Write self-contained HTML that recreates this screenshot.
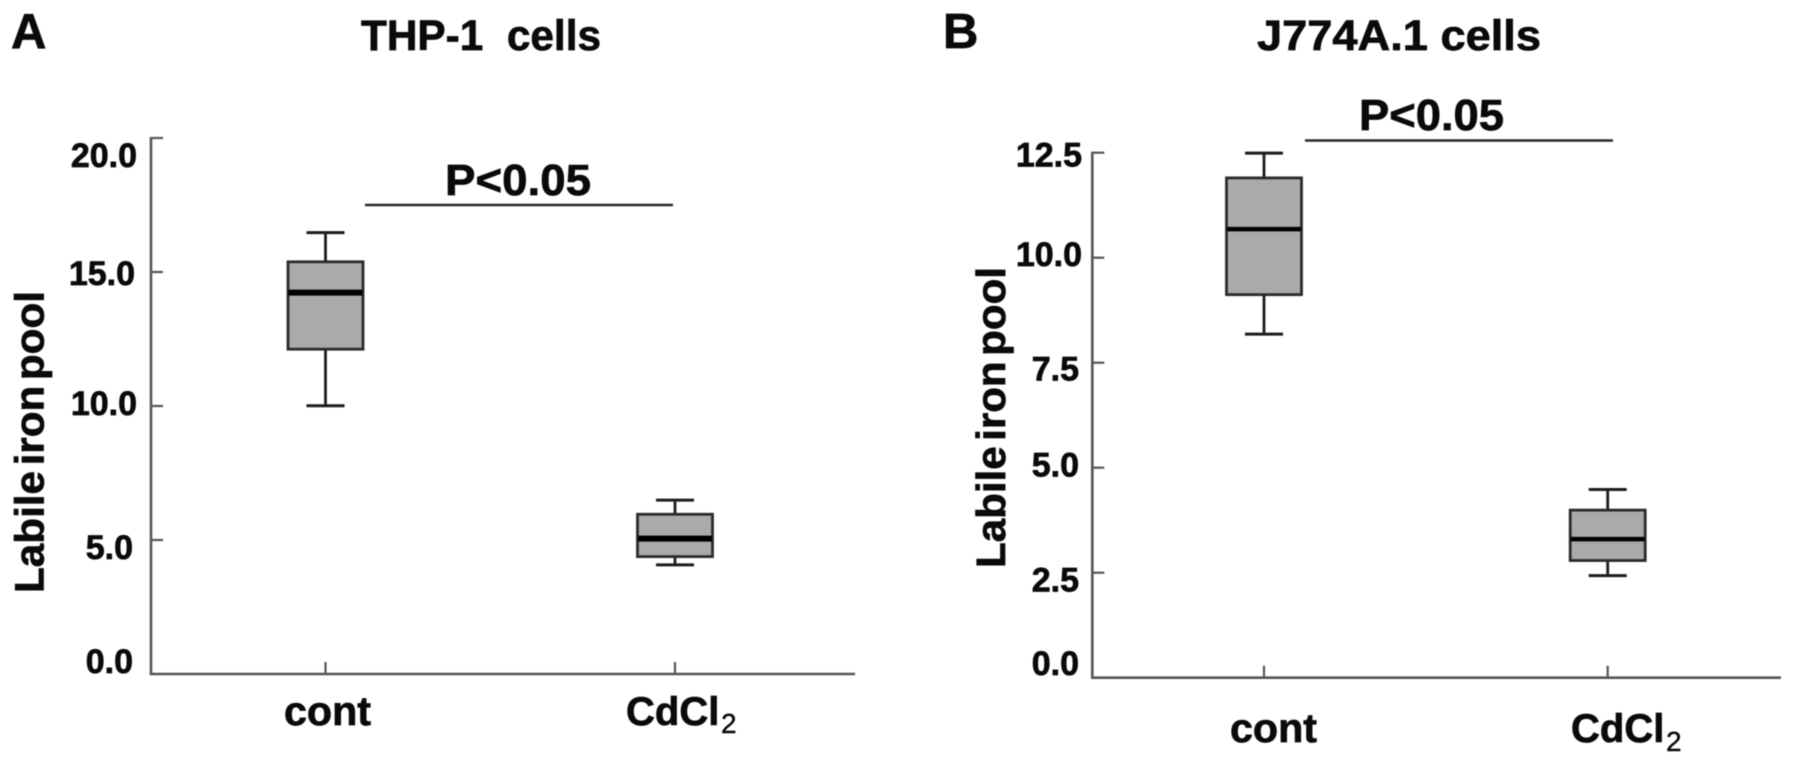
<!DOCTYPE html>
<html lang="en">
<head>
<meta charset="utf-8">
<title>Labile iron pool box plots</title>
<style>
  html, body { margin: 0; padding: 0; background: #fff; }
  body { width: 1795px; height: 763px; overflow: hidden; }
  svg { display: block; filter: blur(0.45px); }
  text { font-family: "Liberation Sans", sans-serif; font-weight: 700; fill: #0a0a0a; stroke: #0a0a0a; stroke-width: 0.7px; }
  .sub { font-weight: 400; stroke-width: 0.4px; }
</style>
</head>
<body>
<svg id="figure" xmlns="http://www.w3.org/2000/svg" width="1795" height="763" viewBox="0 0 1795 763">
  <rect x="0" y="0" width="1795" height="763" fill="#ffffff"/>

  <g id="panel-a">
    <text x="11" y="48" font-size="49">A</text>
    <text x="361" y="50" font-size="43" textLength="240" lengthAdjust="spacingAndGlyphs" xml:space="preserve">THP-1  cells</text>
    <text transform="translate(43.5 593) rotate(-90)" font-size="41" word-spacing="-6" textLength="302" lengthAdjust="spacingAndGlyphs">Labile iron pool</text>
    <text x="445" y="195" font-size="44" textLength="146" lengthAdjust="spacingAndGlyphs">P&lt;0.05</text>
    <line x1="365" y1="205" x2="673" y2="205" stroke="#2a2a2a" stroke-width="2.4"/>
    <text x="284" y="725" font-size="41" textLength="87" lengthAdjust="spacingAndGlyphs">cont</text>
    <text x="626" y="725" font-size="40">CdCl<tspan class="sub" x="721" y="733" font-size="28">2</tspan></text>
  </g>

  <g id="panel-b">
    <text x="943" y="48" font-size="49">B</text>
    <text x="1257" y="50" font-size="43" textLength="284" lengthAdjust="spacingAndGlyphs">J774A.1 cells</text>
    <text transform="translate(1005 568) rotate(-90)" font-size="41" word-spacing="-6" textLength="301" lengthAdjust="spacingAndGlyphs">Labile iron pool</text>
    <text x="1359" y="130" font-size="44" textLength="145" lengthAdjust="spacingAndGlyphs">P&lt;0.05</text>
    <line x1="1305" y1="140.5" x2="1613" y2="140.5" stroke="#2a2a2a" stroke-width="2.4"/>
    <text x="1230" y="742" font-size="41" textLength="87" lengthAdjust="spacingAndGlyphs">cont</text>
    <text x="1571" y="742" font-size="40">CdCl<tspan class="sub" x="1666" y="751" font-size="28">2</tspan></text>
  </g>
</svg>

<script>
// Panel A: THP-1 cells
const thpMin = [10.01, 4.07];
const thpQ1 = [12.12, 4.38];
const thpMedian = [14.23, 5.05];
const thpQ3 = [15.38, 5.96];
const thpMax = [16.47, 6.49];
const thpTicks = [0, 5, 10, 15, 20];
const thpTickLabels = ['0.0', '5.0', '10.0', '15.0', '20.0'];

// Panel B: J774A.1 cells
const jMin = [8.18, 2.43];
const jQ1 = [9.12, 2.79];
const jMedian = [10.68, 3.30];
const jQ3 = [11.90, 3.99];
const jMax = [12.49, 4.48];
const jTicks = [0, 2.5, 5, 7.5, 10, 12.5];
const jTickLabels = ['0.0', '2.5', '5.0', '7.5', '10.0', '12.5'];

const NS = 'http://www.w3.org/2000/svg';

function mk(parent, tag, attrs) {
  const el = document.createElementNS(NS, tag);
  for (const k in attrs) el.setAttribute(k, attrs[k]);
  parent.appendChild(el);
  return el;
}

function drawPanel(parent, s, layout) {
  const y = v => layout.y0 - layout.yScale * v;
  const x = i => layout.x0 + layout.xStep * i;
  const axisStyle = { stroke: '#555555', 'stroke-width': 2.6, fill: 'none' };
  const topY = y(s.ticks[s.ticks.length - 1]);

  const yAxis = mk(parent, 'line', Object.assign({ x1: layout.axisX, y1: topY - 1, x2: layout.axisX, y2: y(0) + 1 }, axisStyle));
  
  

  const xAxis = mk(parent, 'line', Object.assign({ x1: layout.axisX - 1, y1: y(0), x2: layout.axisEnd, y2: y(0) }, axisStyle));
  
  

  s.ticks.forEach(function (t, i) {
    if (t !== 0) {
      const tick = mk(parent, 'line', { x1: layout.axisX, y1: y(t), x2: layout.axisX + 12, y2: y(t), stroke: '#555555', 'stroke-width': 2.2 });
      
      
    }
    const label = mk(parent, 'text', {
      x: layout.labelEnd + layout.labelDx[i],
      y: y(t) + layout.labelDy[i],
      'font-size': 34,
      'text-anchor': 'end'
    });
    label.textContent = s.tickLabels[i];
    
    
  });

  s.median.forEach(function (m, i) {
    const cx = x(i);

    const xTick = mk(parent, 'line', { x1: cx, y1: y(0), x2: cx, y2: y(0) - 12, stroke: '#555555', 'stroke-width': 2.2 });
    
    

    const upper = mk(parent, 'line', { x1: cx, y1: y(s.q3[i]), x2: cx, y2: y(s.max[i]), stroke: '#1c1c1c', 'stroke-width': 2.8 });
    
    

    const lower = mk(parent, 'line', { x1: cx, y1: y(s.q1[i]), x2: cx, y2: y(s.min[i]), stroke: '#1c1c1c', 'stroke-width': 2.8 });
    
    

    const capTop = mk(parent, 'line', { x1: cx - 19, y1: y(s.max[i]), x2: cx + 19, y2: y(s.max[i]), stroke: '#1c1c1c', 'stroke-width': 3 });
    
    

    const capBottom = mk(parent, 'line', { x1: cx - 19, y1: y(s.min[i]), x2: cx + 19, y2: y(s.min[i]), stroke: '#1c1c1c', 'stroke-width': 3 });
    
    

    const box = mk(parent, 'rect', {
      x: cx - 37.5,
      y: y(s.q3[i]),
      width: 75,
      height: y(s.q1[i]) - y(s.q3[i]),
      fill: '#aaaaaa',
      stroke: '#2a2a2a',
      'stroke-width': 2.8
    });
    
    

    const med = mk(parent, 'line', { x1: cx - 37, y1: y(m), x2: cx + 37, y2: y(m), stroke: '#000000', 'stroke-width': layout.medianWidth });
    
    
  });
}

drawPanel(document.getElementById('panel-a'), {
  min: thpMin, q1: thpQ1, median: thpMedian, q3: thpQ3, max: thpMax,
  ticks: thpTicks, tickLabels: thpTickLabels
}, {
  y0: 674, yScale: 26.8, x0: 325.5, xStep: 349.5, axisX: 151, axisEnd: 855,
  labelEnd: 135, labelDx: [-2, -2, 2, 0, 2], labelDy: [-1, 19, 9, 13, 29],
  medianWidth: 6
});

drawPanel(document.getElementById('panel-b'), {
  min: jMin, q1: jQ1, median: jMedian, q3: jQ3, max: jMax,
  ticks: jTicks, tickLabels: jTickLabels
}, {
  y0: 677.7, yScale: 42, x0: 1264, xStep: 343.7, axisX: 1092.3, axisEnd: 1781,
  labelEnd: 1081, labelDx: [-2, -2, -2, -2, 1, 1], labelDy: [-2.7, 19, 9, 17.7, 8.4, 14],
  medianWidth: 4.5
});
</script>
</body>
</html>
